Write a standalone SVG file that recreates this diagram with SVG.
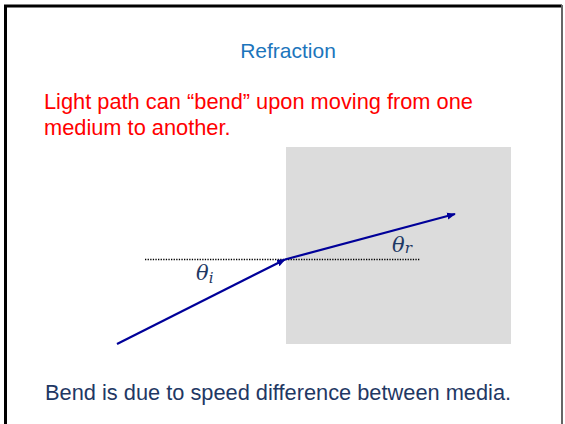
<svg xmlns="http://www.w3.org/2000/svg" width="565" height="424" viewBox="0 0 565 424">
<defs>
<style>
.t{font-family:"Liberation Sans",Arial,sans-serif}
.m{font-family:"DejaVu Serif","Liberation Serif",serif;font-style:italic;fill:#1f3864}
.ray{stroke:#000099;stroke-width:2.2;fill:none}
</style>
<marker id="ah" viewBox="0 0 10 10" refX="9" refY="5" markerWidth="4" markerHeight="4" orient="auto" markerUnits="strokeWidth">
<path d="M0,1 L10,5 L0,9 Z" fill="#000099"/>
</marker>
</defs>
<rect width="565" height="424" fill="#fff"/>
<g id="frame">
<line x1="5.5" y1="5" x2="5.5" y2="424" stroke="#000" stroke-width="3"/>
<line x1="4" y1="6" x2="562" y2="6" stroke="#000" stroke-width="3"/>
<line x1="562" y1="5" x2="562" y2="424" stroke="#666" stroke-width="2"/>
</g>
<g id="title"><text class="t" x="288" y="58" font-size="21" fill="#1b75bc" text-anchor="middle">Refraction</text></g>
<g id="statement"><text class="t" font-size="21.8" fill="#ff0000"><tspan x="44" y="109">Light path can “bend” upon moving from one</tspan><tspan x="44" y="135">medium to another.</tspan></text></g>
<g id="medium"><rect x="286" y="147" width="225" height="197" fill="#dcdcdc"/></g>
<g id="normal"><line x1="145" y1="259.5" x2="420" y2="259.5" stroke="#000" stroke-width="1.3" stroke-dasharray="1.3,1.3"/></g>
<g id="connectors">
<line class="ray" x1="117" y1="344" x2="285" y2="259.5" marker-end="url(#ah)"/>
<line class="ray" x1="285" y1="259.5" x2="455" y2="214" marker-end="url(#ah)"/>
</g>
<g id="labels">
<text class="m" x="196" y="280" font-size="21">θ<tspan font-size="15" dy="3">i</tspan></text>
<text class="m" x="392" y="252" font-size="21">θ<tspan font-size="15" dy="1">r</tspan></text>
</g>
<g id="footer"><text class="t" x="45" y="400" font-size="21.8" fill="#1f3864">Bend is due to speed difference between media.</text></g>
</svg>
